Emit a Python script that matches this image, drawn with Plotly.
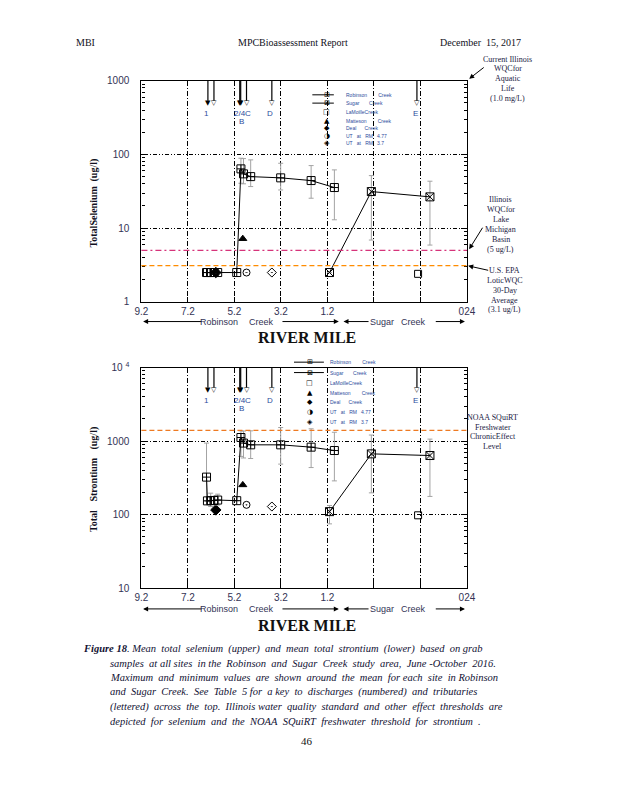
import plotly.graph_objects as go

W, H = 618, 800

# ---------------- data ----------------
# Robinson Creek sites (river mile) with mean / max / min
rob_rm = [6.40, 6.36, 6.22, 6.08, 5.92, 5.10, 4.92, 4.81, 4.50, 3.21, 1.90, 0.90]
rob_se = [2.5, 2.5, 2.5, 2.5, 2.5, 2.5, 63.8, 54.6, 50.1, 48.2, 44.3, 35.6]
rob_se_max = [None, None, None, None, None, None, 89.0, 88.0, 84.5, 76.0, 70.7, 61.8]
rob_se_min = [None, None, None, None, None, None, 40.7, 40.0, 36.7, 33.0, 25.5, 13.0]
rob_sr = [324, 154, 155, 156, 158, 155, 1120, 940, 890, 890, 828, 745]
rob_sr_max = [940, None, 196, None, 190, None, 1380, 1370, 1380, 1530, 1470, 1320]
rob_sr_min = [155, None, 129, None, 135, None, 620, 590, 580, 487, 437, 288]

# Sugar Creek sites (plot position on the river-mile axis)
sug_rm = [1.11, -0.69, -3.21]
sug_se = [2.5, 31.4, 26.6]
sug_se_max = [None, 51.7, 43.4]
sug_se_min = [None, 6.9, 5.9]
sug_sr = [110, 671, 637]
sug_sr_max = [133, 1210, 1065]
sug_sr_min = [75, 198, 177]

# Tributaries
trib_names = ["LaMoille Creek", "Matteson Creek", "Deal Creek", "UT at RM 4.77", "UT at RM 3.7"]
trib_rm = [-2.70, 4.84, 6.00, 4.68, 3.59]
trib_se = [2.4, 7.2, 2.5, 2.5, 2.5]
trib_sr = [98, 254, 116, 136, 129]

# Thresholds
se_lake_michigan = 5.0
se_epa_lotic = 3.1
sr_noaa = 1400

# Axis ticks
x_tickvals = [9.2, 7.2, 5.2, 3.2, 1.2, -0.8, -2.8, -4.8]
x_ticktext = ["9.2", "7.2", "5.2", "3.2", "1.2", "", "", "024"]
se_tickvals = [1, 10, 100, 1000]
se_ticktext = ["1", "10", "100", "1000"]
sr_tickvals = [10, 100, 1000, 10000]
sr_ticktext = ["10", "100", "1000", "10 <sup>4</sup>"]

# Discharges (numbered) and tributaries (lettered) across the top
dis_rm = [6.34, 6.08, 4.97, 4.93, 4.68, 3.59, -2.65]
dis_filled = [True, False, True, True, False, False, False]
dis_label_text = ["1", "2/4C", "B", "D", "E"]
dis_label_rm = [6.38, 4.85, 4.89, 3.68, -2.57]
dis_label_row = [0, 0, 1, 0, 0]

legend_names = ["Robinson\u00a0\u00a0\u00a0\u00a0\u00a0\u00a0\u00a0\u00a0Creek",
                "Sugar\u00a0\u00a0\u00a0\u00a0\u00a0\u00a0\u00a0Creek",
                "LaMoilleCreek",
                "Matteson\u00a0\u00a0\u00a0\u00a0\u00a0\u00a0\u00a0\u00a0Creek",
                "Deal\u00a0\u00a0\u00a0\u00a0\u00a0\u00a0Creek",
                "UT\u00a0\u00a0\u00a0at\u00a0\u00a0\u00a0RM\u00a0\u00a0\u00a04.77",
                "UT\u00a0\u00a0\u00a0at\u00a0\u00a0\u00a0RM\u00a0\u00a0\u00a03.7"]
legend_glyphs = ["\u229e", "\u22a0", "\u25a1", "\u25b2", "\u25c6", "\u25d1", "\u25c8"]
legend_has_line = [True, True, False, False, False, False, False]

# page placement compensation (page px of the reference -> figure px)
OX, SX = 13.0, 0.9786
OY, SY = 15.2, 0.9848


def fx(x):
    return (x - OX) / SX


def fy(y):
    return (y - OY) / SY


def px(x):
    return fx(x) / W


def py(y):
    return 1 - fy(y) / H


def minor_log(lo, hi):
    vals = []
    for d in range(lo, hi):
        for k in range(2, 10):
            vals.append(k * 10 ** d)
    return vals


def err_arrays(mean, mx, mn):
    plus = [None if a is None else a - m for m, a in zip(mean, mx)]
    minus = [None if b is None else m - b for m, b in zip(mean, mn)]
    return plus, minus


fig = go.Figure()
ERR = dict(color="#a3a3a3", thickness=1, width=2.5)
trib_symbols = ["square-open", "triangle-up", "diamond", "circle-open-dot", "diamond-open-dot"]
trib_sizes = [7, 7, 8, 7, 7]


def add_panel(xa, ya, rob_y, rob_mx, rob_mn, sug_y, sug_mx, sug_mn, trib_y):
    for i in range(len(trib_names)):
        fig.add_trace(go.Scatter(
            x=[trib_rm[i]], y=[trib_y[i]], mode="markers", xaxis=xa, yaxis=ya,
            marker=dict(symbol=trib_symbols[i], size=trib_sizes[i], color="black",
                        line=dict(color="black", width=1)),
            name=trib_names[i], showlegend=False, hoverinfo="skip"))
    for x, y, mx, mn, sym, nm in [(rob_rm, rob_y, rob_mx, rob_mn, "square-cross-open", "Robinson Creek"),
                                  (sug_rm, sug_y, sug_mx, sug_mn, "square-x-open", "Sugar Creek")]:
        p, m = err_arrays(y, mx, mn)
        fig.add_trace(go.Scatter(
            x=x, y=y, mode="lines+markers", xaxis=xa, yaxis=ya, name=nm,
            line=dict(color="black", width=1),
            marker=dict(symbol=sym, size=8, color="black", line=dict(color="black", width=1)),
            error_y=dict(type="data", symmetric=False, array=p, arrayminus=m, **ERR),
            showlegend=False, hoverinfo="skip"))


add_panel("x", "y", rob_se, rob_se_max, rob_se_min, sug_se, sug_se_max, sug_se_min, trib_se)
add_panel("x2", "y2", rob_sr, rob_sr_max, rob_sr_min, sug_sr, sug_sr_max, sug_sr_min, trib_sr)

TICKFONT = dict(family="Liberation Sans", size=10, color="#333355")
X0, X1 = 140, 467


def xaxis_cfg(anchor):
    return dict(domain=[px(X0), px(X1)], anchor=anchor, range=[9.2, -4.8], autorange=False,
                tickmode="array", tickvals=x_tickvals, ticktext=x_ticktext,
                ticks="inside", ticklen=5, tickcolor="black", showline=True, linecolor="black",
                linewidth=1.2, mirror=True, showgrid=True, gridcolor="black", gridwidth=1,
                griddash="5px,2px,1px,2px", zeroline=False, tickfont=TICKFONT)


def yaxis_cfg(anchor, dom, rng, tv, tt, lo, hi):
    return dict(domain=dom, anchor=anchor, type="log", range=rng, autorange=False,
                tickmode="array", tickvals=tv, ticktext=tt, ticks="inside", ticklen=6,
                tickcolor="black", showline=True, linecolor="black", linewidth=1.2,
                mirror="ticks", showgrid=True, gridcolor="black", gridwidth=1,
                griddash="4px,2px,1px,2px,1px,2px", zeroline=False, tickfont=TICKFONT,
                ticklabelstandoff=9,
                minor=dict(tickmode="array", tickvals=minor_log(lo, hi), ticks="inside",
                           ticklen=3, tickcolor="black", showgrid=False))


shapes = []
ann = []

# threshold lines
shapes.append(dict(type="line", xref="x domain", yref="y", x0=0, x1=1,
                   y0=se_lake_michigan, y1=se_lake_michigan,
                   line=dict(color="#d6337a", width=1.2, dash="6px,3px,2px,3px")))
shapes.append(dict(type="line", xref="x domain", yref="y", x0=0, x1=1,
                   y0=se_epa_lotic, y1=se_epa_lotic,
                   line=dict(color="#ff8c00", width=1.2, dash="5px,3px")))
shapes.append(dict(type="line", xref="x2 domain", yref="y2", x0=0, x1=1,
                   y0=sr_noaa, y1=sr_noaa,
                   line=dict(color="#ee7a22", width=1.2, dash="5px,3px")))


def txt(x, y, s, size, family="Liberation Serif", color="#111122", xanchor="center",
        yanchor="middle", angle=0):
    ann.append(dict(x=px(x), y=py(y), xref="paper", yref="paper", text=s, showarrow=False,
                    xanchor=xanchor, yanchor=yanchor, textangle=angle,
                    font=dict(family=family, size=size, color=color)))


def arrow(tipx, tipy, tailx, taily, head=2):
    ann.append(dict(x=px(tipx), y=py(tipy), xref="paper", yref="paper", text="",
                    showarrow=True, ax=fx(tailx) - fx(tipx), ay=fy(taily) - fy(tipy),
                    arrowhead=head, arrowsize=1, arrowwidth=1, arrowcolor="black"))


# discharge arrows
for top, xr in [(81, "x"), (367.7, "x2")]:
    for rm, filled in zip(dis_rm, dis_filled):
        shapes.append(dict(type="line", xref=xr, yref="paper", x0=rm, x1=rm,
                           y0=py(top), y1=py(top + 20), line=dict(color="black", width=1.2)))
        ann.append(dict(x=rm, y=py(top + 22), xref=xr, yref="paper",
                        text="\u25bc" if filled else "\u25bd", showarrow=False,
                        xanchor="center", yanchor="middle",
                        font=dict(family="DejaVu Sans", size=7, color="black")))
    for s, rm, row in zip(dis_label_text, dis_label_rm, dis_label_row):
        ann.append(dict(x=rm, y=py(top + 33 + 8 * row), xref=xr, yref="paper", text=s,
                        showarrow=False, xanchor="center", yanchor="middle",
                        font=dict(family="Liberation Sans", size=8, color="#2c4c9c")))

# legends
for (mx, l0, l1, tx, rows) in [(326, 311.7, 333.3, 343.3, [95, 103.3, 111.7, 120.7, 128.3, 136, 143.3]),
                               (309, 293.3, 323.3, 327.3, [362.3, 372.7, 382.7, 392.7, 402.3, 412.3, 422.3])]:
    for i, yy in enumerate(rows):
        if legend_has_line[i]:
            shapes.append(dict(type="line", xref="paper", yref="paper", x0=px(l0), x1=px(l1),
                               y0=py(yy), y1=py(yy), line=dict(color="black", width=1)))
        txt(mx, yy, legend_glyphs[i], 7, family="DejaVu Sans", color="black")
        txt(tx, yy, legend_names[i], 5, family="Liberation Sans", color="#2c4c9c", xanchor="left")

# header
txt(72, 43, "MBI", 10, xanchor="left")
txt(292, 43, "MPCBioassessment Report", 10)
txt(438, 43, "December\u00a0 15, 2017", 10, xanchor="left")

# y titles
txt(92, 170, "<b>(ug/l)</b>", 10, angle=-90)
txt(92, 217, "<b>TotalSelenium</b>", 10, angle=-90)
txt(92, 438, "<b>(ug/l)</b>", 10, angle=-90)
txt(92, 480, "<b>Strontium</b>", 10, angle=-90)
txt(92, 521.5, "<b>Total</b>", 10, angle=-90)

# creek arrow rows + RIVER MILE
for yr, ym in [(321.7, 338), (609, 626)]:
    arrow(141.7, yr, 200.5, yr)
    arrow(338.3, yr, 281.7, yr)
    arrow(343.0, yr, 369.0, yr)
    arrow(465.0, yr, 435.0, yr)
    txt(218, yr, "Robinson", 9, family="Liberation Sans", color="#333355")
    txt(261, yr, "Creek", 9, family="Liberation Sans", color="#333355")
    txt(382, yr, "Sugar", 9, family="Liberation Sans", color="#333355")
    txt(413, yr, "Creek", 9, family="Liberation Sans", color="#333355")
    txt(306, ym, "<b>RIVER MILE</b>", 16, color="#111111")

# right-side threshold labels
blocks = [(508, 59.3, ["Current Illinois", "WQCfor", "Aquatic", "Life", "(1.0 mg/L)"]),
          (501, 200, ["Illinois", "WQCfor", "Lake", "Michigan", "Basin", "(5 ug/L)"]),
          (505, 270.7, ["U.S. EPA", "LoticWQC", "30-Day", "Average", "(3.1 ug/L)"]),
          (493, 417.3, ["NOAA SQuiRT", "Freshwater", "ChronicEffect", "Level"])]
for cx, y0, lines in blocks:
    for i, s in enumerate(lines):
        txt(cx, y0 + 9.85 * i, s, 8, color="#1a1a44")
arrow(469.3, 79.0, 485, 66.7)
arrow(469.3, 249.3, 483.3, 226.7)
arrow(468.3, 266.0, 489.3, 270.7)

# caption
S = "\u00a0 "
cap = [
    (79.3, 649, "<b><i>Figure 18</i></b><i>. Mean" + S + "total" + S + "selenium" + S + "(upper)" + S + "and" + S
     + "mean" + S + "total" + S + "strontium" + S + "(lower)" + S + "based" + S + "on grab</i>"),
    (106.7, 663.5, "<i>samples" + S + "at all sites" + S + "in the" + S + "Robinson" + S + "and" + S + "Sugar" + S
     + "Creek" + S + "study" + S + "area," + S + "June -October" + S + "2016.</i>"),
    (106.7, 678, "<i>Maximum" + S + "and" + S + "minimum" + S + "values" + S + "are" + S + "shown" + S + "around"
     + S + "the" + S + "mean" + S + "for each" + S + "site" + S + "in Robinson</i>"),
    (106.7, 692.5, "<i>and" + S + "Sugar" + S + "Creek." + S + "See" + S + "Table" + S + "5 for" + S + "a key" + S
     + "to" + S + "discharges" + S + "(numbered)" + S + "and" + S + "tributaries</i>"),
    (106.7, 707, "<i>(lettered)" + S + "across" + S + "the" + S + "top." + S + "Illinois water" + S + "quality" + S
     + "standard" + S + "and" + S + "other" + S + "effect" + S + "thresholds" + S + "are</i>"),
    (106.7, 721.5, "<i>depicted" + S + "for" + S + "selenium" + S + "and" + S + "the" + S + "NOAA" + S + "SQuiRT"
     + S + "freshwater" + S + "threshold" + S + "for" + S + "strontium" + S + ".</i>"),
]
for x, y, s in cap:
    txt(x, y, s, 10.5, color="#111133", xanchor="left")
txt(306, 741, "46", 11, color="#111111")

fig.update_layout(
    width=W, height=H, margin=dict(l=0, r=0, t=0, b=0),
    paper_bgcolor="white", plot_bgcolor="white", showlegend=False,
    xaxis=xaxis_cfg("y"),
    yaxis=yaxis_cfg("x", [py(302), py(81)], [0, 3], se_tickvals, se_ticktext, 0, 3),
    xaxis2=xaxis_cfg("y2"),
    yaxis2=yaxis_cfg("x2", [py(588.3), py(367.7)], [1, 4], sr_tickvals, sr_ticktext, 1, 4),
    shapes=shapes, annotations=ann,
)

fig.write_html("out.html")
